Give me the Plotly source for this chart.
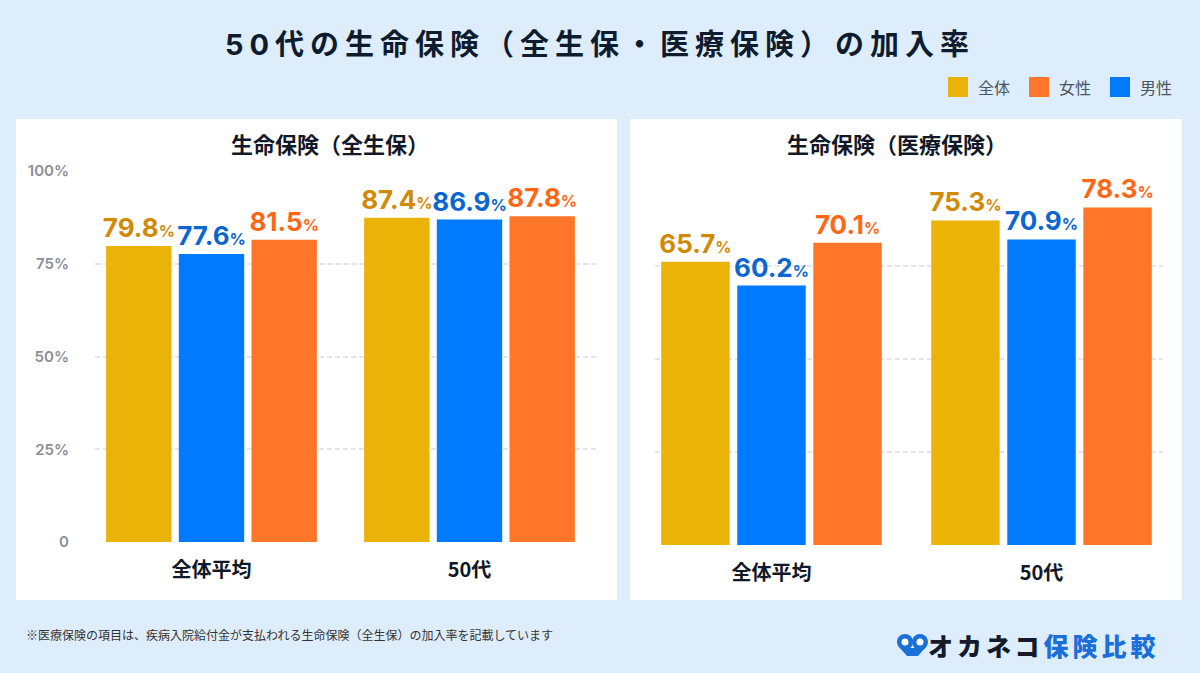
import numpy as np
import plotly.graph_objects as go

# ---------------- data ----------------
categories = ["全体平均", "50代"]
series_names = ["全体", "男性", "女性"]
zenseiho = {"全体": [79.8, 87.4], "男性": [77.6, 86.9], "女性": [81.5, 87.8]}
iryo = {"全体": [65.7, 75.3], "男性": [60.2, 70.9], "女性": [70.1, 78.3]}
left_ticks = [0, 25, 50, 75, 100]
left_ticklabels = ["0", "25%", "50%", "75%", "100%"]
legend_order = ["全体", "女性", "男性"]

title_text = "50代の生命保険（全生保・医療保険）の加入率"
panel_titles = ["生命保険（全生保）", "生命保険（医療保険）"]
footnote = "※医療保険の項目は、疾病入院給付金が支払われる生命保険（全生保）の加入率を記載しています"

# ---------------- styles ----------------
W, H = 1200, 673
BG = "#deedfc"
bar_colors = {"全体": "#ebb207", "男性": "#007bff", "女性": "#ff7628"}
label_colors = {"全体": "#d18a06", "男性": "#0b66cf", "女性": "#ff6716"}
FONT = "Inter, 'Noto Sans CJK JP', sans-serif"
JP = "'Noto Sans CJK JP', sans-serif"
GRID = "#e3e5e8"


def px_x(x):
    return x / W


def px_y(y):
    return 1 - y / H


fig = go.Figure()

for panel, data in enumerate([zenseiho, iryo]):
    xa = "x" if panel == 0 else "x2"
    ya = "y" if panel == 0 else "y2"
    for name in series_names:
        fig.add_trace(go.Bar(
            x=categories, y=data[name], name=name,
            xaxis=xa, yaxis=ya,
            marker=dict(color=bar_colors[name], line=dict(width=0)),
            texttemplate="%{y:.1f}<span style='font-size:16px'>%</span>",
            textposition="outside",
            textfont=dict(family=FONT, size=26, color=label_colors[name], weight=700),
            constraintext="none",
            cliponaxis=False,
            showlegend=False,
            hoverinfo="skip",
        ))

# panels (white cards)
shapes = []
for (x0, x1) in [(16, 617), (630, 1182)]:
    shapes.append(dict(type="rect", xref="paper", yref="paper",
                       x0=px_x(x0), x1=px_x(x1), y0=px_y(600), y1=px_y(119),
                       fillcolor="white", line=dict(width=0), layer="below"))

# legend (custom, top right)
legend_x = [948, 1029, 1110]
for lx, name in zip(legend_x, legend_order):
    shapes.append(dict(type="rect", xref="paper", yref="paper",
                       x0=px_x(lx), x1=px_x(lx + 20), y0=px_y(97), y1=px_y(77),
                       fillcolor=bar_colors[name], line=dict(width=0)))

# logo icon
for cx in [905, 920]:
    shapes.append(dict(type="circle", xref="paper", yref="paper",
                       x0=px_x(cx - 8), x1=px_x(cx + 8), y0=px_y(650), y1=px_y(634),
                       fillcolor="#1a6fd8", line=dict(width=0)))
    shapes.append(dict(type="circle", xref="paper", yref="paper",
                       x0=px_x(cx - 3.5), x1=px_x(cx + 3.5), y0=px_y(645.5), y1=px_y(638.5),
                       fillcolor="white", line=dict(width=0)))
shapes.append(dict(type="path", xref="paper", yref="paper",
                   path="M {a},{b} L {c},{b} L {d},{e} L {f},{e} Z".format(
                       a=px_x(900), b=px_y(648), c=px_x(925), d=px_x(918), e=px_y(656), f=px_x(907)),
                   fillcolor="#1a6fd8", line=dict(width=0)))

annotations = []
annotations.append(dict(
    text="<span style='letter-spacing:6px'>" + title_text + "</span>",
    x=0.5, y=px_y(45), xref="paper", yref="paper", showarrow=False,
    xanchor="center", yanchor="middle",
    font=dict(family=FONT, size=29, color="#0f1c2e", weight=700)))

for cx, t in zip([330, 897], panel_titles):
    annotations.append(dict(
        text=t, x=px_x(cx), y=px_y(143), xref="paper", yref="paper", showarrow=False,
        xanchor="center", yanchor="middle",
        font=dict(family=JP, size=22, color="#111827", weight=700)))

for lx, name in zip(legend_x, legend_order):
    annotations.append(dict(
        text=name, x=px_x(lx + 28), y=px_y(87), xref="paper", yref="paper", showarrow=False,
        xanchor="left", yanchor="middle",
        font=dict(family=JP, size=16, color="#4b5563")))

annotations.append(dict(
    text=footnote, x=px_x(24), y=px_y(634), xref="paper", yref="paper", showarrow=False,
    xanchor="left", yanchor="middle",
    font=dict(family=JP, size=12, color="#333333")))

annotations.append(dict(
    text="<span style='letter-spacing:4px'><span style='color:#141a2a'>オカネコ</span>"
         "<span style='color:#1a6fd8'>保険比較</span></span>",
    x=px_x(1162), y=px_y(645), xref="paper", yref="paper", showarrow=False,
    xanchor="right", yanchor="middle",
    font=dict(family=JP, size=25, weight=900)))

# axes geometry
right_top = 86.3
right_ticks = list(np.linspace(0, right_top, 5))

common_y = dict(showline=False, zeroline=False, showgrid=True, gridcolor=GRID,
                gridwidth=1.5, griddash="5px,3px", ticks="", fixedrange=True, automargin=False)
common_x = dict(type="category", showline=False, zeroline=False, showgrid=False, ticks="",
                tickfont=dict(family=JP, size=20, color="#111827", weight=700),
                ticklabelstandoff=14, fixedrange=True, automargin=False)

fig.update_layout(
    template="none",
    width=W, height=H,
    margin=dict(l=0, r=0, t=0, b=0, pad=0, autoexpand=False),
    paper_bgcolor=BG, plot_bgcolor="white",
    barmode="group", bargap=0.155, bargroupgap=0.1,
    shapes=shapes, annotations=annotations,
    showlegend=False,
    xaxis=dict(domain=[px_x(95), px_x(597)], range=[(95 - 211.5) / 258, (597 - 211.5) / 258],
               anchor="y", **common_x),
    yaxis=dict(domain=[px_y(542), px_y(171)], range=[0, 100], anchor="x",
               tickvals=left_ticks, ticktext=left_ticklabels,
               tickfont=dict(family=FONT, size=15, color="#8a8f98", weight=600),
               ticklabelstandoff=25, **common_y),
    xaxis2=dict(domain=[px_x(655), px_x(1163)], range=[(655 - 771.5) / 270, (1163 - 771.5) / 270],
                anchor="y2", **common_x),
    yaxis2=dict(domain=[px_y(545), px_y(173)], range=[0, right_top], anchor="x2",
                tickvals=right_ticks, showticklabels=False, **common_y),
)

fig.write_html("out.html", config={"displayModeBar": False},
               post_script="document.body.style.margin='0';document.body.style.background='" + BG + "';")
